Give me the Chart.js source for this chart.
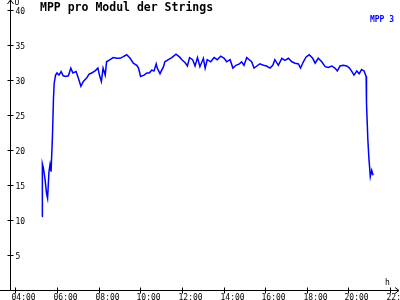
<!DOCTYPE html>
<html>
<head>
<meta charset="utf-8">
<script src="https://cdn.jsdelivr.net/npm/chart.js@4/dist/chart.umd.min.js"></script>
<style>
  html, body { margin: 0; padding: 0; background: #fff; }
  canvas { display: block; }
</style>
</head>
<body>
<canvas id="myChart" width="400" height="300"></canvas>
<script>
// readings of MPP 3, time of day -> volts per module
const times = [
  "05:17","05:18","05:21","05:26","05:30","05:33","05:37","05:40","05:43","05:47",
  "05:50","05:52","05:56","06:00","06:06","06:12","06:18","06:25","06:33","06:40",
  "06:46","06:55","07:02","07:09","07:16","07:26","07:32","07:40","07:50","07:58",
  "08:03","08:08","08:13","08:19","08:23","08:33","08:42","08:52","09:02","09:10",
  "09:21","09:31","09:40","09:50","09:55","10:01","10:11","10:19","10:26","10:33",
  "10:40","10:46","10:49","10:57","11:07","11:11","11:21","11:31","11:43","11:53",
  "12:00","12:09","12:16","12:22","12:31","12:38","12:45","12:52","13:02","13:07",
  "13:13","13:23","13:33","13:42","13:52","14:02","14:09","14:19","14:27","14:36",
  "14:46","14:52","14:59","15:07","15:14","15:21","15:28","15:36","15:45","15:55",
  "16:04","16:14","16:22","16:28","16:38","16:48","16:57","17:07","17:17","17:26",
  "17:36","17:42","17:50","17:58","18:07","18:17","18:24","18:33","18:43","18:53",
  "19:02","19:12","19:21","19:28","19:36","19:45","19:55","20:03","20:10","20:16",
  "20:24","20:31","20:38","20:45","20:51","20:52","20:56","20:59","21:02","21:03",
  "21:07","21:11"
];
const mpp3 = [
  10.5, 18.0, 17.4, 15.7, 13.8, 13.1, 16.9, 17.9, 16.9, 21.9,
  27.4, 29.5, 30.7, 31.0, 30.7, 31.2, 30.6, 30.5, 30.6, 31.7,
  31.0, 31.2, 30.2, 29.1, 29.8, 30.3, 30.8, 31.0, 31.3, 31.7,
  30.6, 29.8, 31.7, 30.7, 32.6, 32.9, 33.2, 33.1, 33.1, 33.3,
  33.6, 33.1, 32.4, 32.1, 31.7, 30.5, 30.7, 31.0, 31.0, 31.4,
  31.3, 32.3, 31.7, 30.9, 31.9, 32.6, 32.9, 33.2, 33.7, 33.3,
  32.9, 32.5, 32.0, 33.2, 32.9, 32.0, 33.2, 31.9, 33.1, 31.7,
  32.9, 32.6, 33.2, 32.9, 33.4, 33.1, 32.6, 32.9, 31.7, 32.1,
  32.3, 32.6, 32.1, 33.2, 32.9, 32.6, 31.7, 32.0, 32.3, 32.1,
  32.0, 31.7, 32.1, 32.9, 32.1, 33.1, 32.8, 33.1, 32.6, 32.4,
  32.3, 31.7, 32.6, 33.3, 33.6, 33.1, 32.4, 33.1, 32.6, 31.9,
  31.8, 32.0, 31.7, 31.3, 32.0, 32.1, 32.0, 31.7, 31.2, 30.7,
  31.3, 30.9, 31.5, 31.3, 30.5, 26.7, 21.4, 18.8, 16.9, 16.2,
  17.1, 16.4
];
const xTickLabels = ["04:00","06:00","08:00","10:00","12:00","14:00","16:00","18:00","20:00","22:00"];
const yTicks = [5, 10, 15, 20, 25, 30, 35, 40];
const seriesName = "MPP 3";
const title = "MPP pro Modul der Strings";

const toHours = s => { const [h, m] = s.split(":").map(Number); return h + m / 60; };

const FONT = "DejaVu Sans Mono, monospace";

// axes, ticks and texts in the old plot style
const axesPlugin = {
  id: "axes",
  afterDraw(chart) {
    const { ctx, chartArea: a, scales: { x, y } } = chart;
    ctx.save();
    ctx.strokeStyle = "#000";
    ctx.fillStyle = "#000";
    ctx.lineWidth = 1;

    const y0 = Math.round(y.getPixelForValue(0)) + 0.5;
    const x0 = Math.round(a.left) + 0.5;

    ctx.beginPath();
    // x axis with arrow
    ctx.moveTo(0, y0); ctx.lineTo(399, y0);
    ctx.moveTo(395, y0 - 3); ctx.lineTo(399, y0); ctx.lineTo(395, y0 + 3);
    // y axis with arrow
    ctx.moveTo(x0, y0); ctx.lineTo(x0, 0);
    ctx.moveTo(x0 - 3, 4); ctx.lineTo(x0, 0); ctx.lineTo(x0 + 3, 4);
    ctx.stroke();

    ctx.font = "8px " + FONT;
    ctx.textBaseline = "middle";
    ctx.textAlign = "left";
    ctx.beginPath();
    yTicks.forEach(v => {
      const py = Math.round(y.getPixelForValue(v)) + 0.5;
      ctx.moveTo(x0 - 3, py); ctx.lineTo(x0 + 3, py);
      ctx.fillText(String(v), x0 + 5, py + 1);
    });
    ctx.textBaseline = "top";
    xTickLabels.forEach(l => {
      const px = Math.round(x.getPixelForValue(toHours(l))) + 0.5;
      ctx.moveTo(px, y0 - 3); ctx.lineTo(px, y0 + 3);
      ctx.fillText(l, px - 4, y0 + 3);
    });
    ctx.stroke();

    // unit labels
    ctx.textBaseline = "alphabetic";
    ctx.fillText("U", x0 + 4, 5);
    ctx.fillText("h", 385, y0 - 6);

    // title
    ctx.font = "bold 11.5px " + FONT;
    ctx.fillText(title, 40, 11);

    // series name
    ctx.font = "bold 8px " + FONT;
    ctx.fillStyle = "#0000ff";
    ctx.textAlign = "right";
    ctx.fillText(seriesName, 394, 22);
    ctx.restore();
  }
};

new Chart(document.getElementById("myChart"), {
  type: "line",
  data: {
    datasets: [{
      label: seriesName,
      data: times.map((t, i) => ({ x: toHours(t), y: mpp3[i] })),
      borderColor: "#0000ff",
      borderWidth: 1.5,
      pointRadius: 0,
      tension: 0,
      fill: false
    }]
  },
  options: {
    responsive: false,
    animation: false,
    layout: { padding: { left: 10, top: 10, right: 2, bottom: 10 } },
    plugins: { legend: { display: false }, tooltip: { enabled: false } },
    scales: {
      x: { type: "linear", display: false, min: 3.745, max: 22.38 },
      y: { display: false, min: 0, max: 40 }
    }
  },
  plugins: [axesPlugin]
});
</script>
</body>
</html>
